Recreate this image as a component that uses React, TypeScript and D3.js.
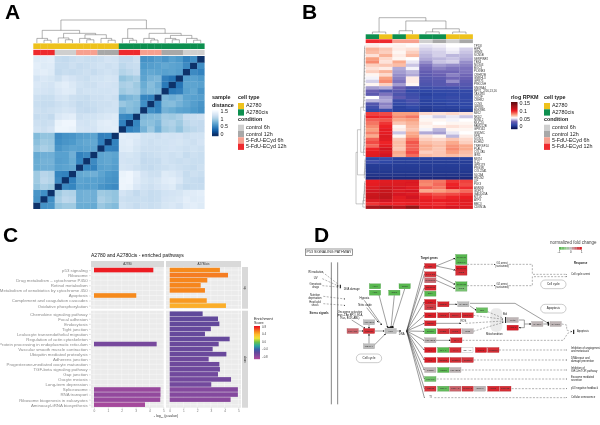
import React, { useEffect, useRef } from 'react';
import * as d3 from 'd3';

const FONT = '"Liberation Sans", Arial, sans-serif';

// ---- panel A / B annotations
const conditions = ['control 6h', 'control 12h', '5-FdU-ECyd 6h', '5-FdU-ECyd 12h'];
const conditionColors = ['#cfcfcf', '#a8a8a8', '#f7a08f', '#ee2a2e'];
const cellTypes = ['A2780', 'A2780cis'];
const cellTypeColors = ['#eec21f', '#0b8f4f'];

// ---- panel A: lower triangle of the sample distance matrix (x100), samples in column order
const sampleTypeA = [0, 0, 0, 0, 0, 0, 0, 0, 0, 0, 0, 0, 1, 1, 1, 1, 1, 1, 1, 1, 1, 1, 1, 1];
const sampleCondA = [3, 3, 3, 0, 0, 0, 2, 2, 2, 1, 1, 1, 3, 3, 3, 2, 2, 2, 1, 1, 1, 0, 0, 0];
const distanceA = [
  [0],
  [60, 0],
  [62, 58, 0],
  [95, 105, 100, 0],
  [100, 115, 110, 55, 0],
  [100, 112, 108, 52, 50, 0],
  [78, 80, 80, 70, 72, 75, 0],
  [78, 82, 82, 68, 70, 78, 52, 0],
  [76, 80, 80, 70, 70, 80, 50, 55, 0],
  [98, 105, 100, 62, 68, 72, 70, 72, 72, 0],
  [92, 100, 98, 58, 62, 65, 72, 75, 75, 50, 0],
  [88, 95, 95, 55, 60, 62, 68, 70, 72, 48, 50, 0],
  [128, 125, 130, 150, 150, 148, 132, 130, 130, 138, 140, 142, 0],
  [125, 122, 125, 148, 152, 152, 130, 128, 132, 140, 142, 140, 50, 0],
  [120, 122, 118, 135, 140, 142, 125, 128, 128, 132, 135, 138, 55, 52, 0],
  [125, 122, 125, 128, 132, 130, 120, 118, 120, 125, 128, 128, 82, 90, 85, 0],
  [122, 120, 120, 125, 128, 125, 118, 120, 122, 125, 125, 128, 98, 92, 88, 58, 0],
  [125, 122, 122, 130, 132, 125, 122, 120, 125, 125, 128, 125, 80, 85, 90, 52, 50, 0],
  [132, 130, 128, 135, 140, 138, 125, 128, 128, 128, 128, 130, 100, 105, 102, 82, 88, 85, 0],
  [135, 132, 130, 138, 142, 136, 128, 125, 125, 130, 130, 128, 105, 108, 100, 78, 90, 80, 45, 0],
  [130, 135, 132, 125, 135, 130, 125, 122, 128, 128, 132, 130, 95, 100, 105, 72, 82, 85, 48, 42, 0],
  [140, 142, 138, 118, 122, 120, 122, 125, 120, 125, 128, 125, 110, 115, 120, 70, 75, 72, 70, 72, 68, 0],
  [142, 138, 140, 120, 120, 125, 120, 122, 125, 128, 125, 128, 115, 120, 122, 65, 68, 70, 75, 72, 70, 55, 0],
  [138, 140, 142, 120, 118, 122, 125, 122, 122, 125, 130, 128, 118, 118, 125, 60, 62, 68, 62, 70, 65, 50, 58, 0],
];
const treeA: any = [1,
  [.55, [.2, 0, [.12, 0, 0]], [.42, [.22, 0, [.14, 0, 0]], [.36, [.2, 0, [.14, 0, 0]], [.2, 0, [.12, 0, 0]]]]],
  [.62, [.2, 0, [.12, 0, 0]], [.42, [.2, 0, [.13, 0, 0]], [.33, [.2, 0, [.14, 0, 0]], [.2, 0, [.12, 0, 0]]]]],
];

// ---- panel B: rlog RPKM x1000, one row per gene
const sampleTypeB = [1, 0, 1, 0, 1, 1, 0, 0];
const sampleCondB = [3, 3, 2, 2, 0, 1, 0, 1];
const genesB = ['TP53I', 'HIPK', 'GRM3', 'SCN5B', 'SERPINF2', 'TBX4', 'NOX03', 'BOC3', 'PLXNB3', 'CRHR2B', 'GNRHL3', 'GPR75', 'PRKCSH', 'SNORA4', 'NPY1_2/16,13,16', 'TAS1R3', 'CXCIF', 'CRHR2', 'CCN3', 'GPR85', 'BDKRB1',
  'MKI2', 'NKD2', 'NXNL2', 'MUC20', 'FAM212B', 'GPR162', 'GSDMC', 'SFN', 'SOX21', 'ECHS2', 'TNFRSF14', 'PLAU', 'COL7A5', 'IER5',
  'MNT4', 'IL12', 'GPR179', 'PRG3R', 'COL22A1', 'SLC8A', 'HNCN2',
  'LIF', 'PLK3', 'ASNSD', 'GDF15', 'GADD45A', 'MT1X', 'ATF3', 'BBC3', 'CDKN1A'];
const rpkmB = [
  [64, 62, 63, 61, 55, 57, 60, 60],
  [76, 72, 64, 66, 52, 54, 58, 52],
  [74, 70, 62, 70, 50, 52, 56, 50],
  [66, 76, 64, 74, 48, 52, 48, 48],
  [80, 68, 62, 60, 46, 48, 50, 46],
  [84, 66, 78, 56, 42, 50, 52, 42],
  [70, 72, 74, 50, 38, 44, 42, 40],
  [66, 64, 46, 58, 36, 40, 38, 38],
  [70, 76, 44, 48, 32, 36, 36, 38],
  [62, 68, 42, 46, 30, 34, 40, 36],
  [58, 80, 40, 64, 28, 30, 36, 34],
  [52, 84, 38, 64, 26, 28, 42, 30],
  [62, 70, 44, 62, 24, 28, 32, 28],
  [44, 46, 34, 22, 18, 20, 20, 22],
  [34, 24, 28, 14, 12, 14, 14, 14],
  [30, 38, 24, 18, 10, 12, 14, 14],
  [60, 44, 30, 20, 12, 14, 16, 14],
  [48, 46, 16, 22, 10, 12, 14, 14],
  [26, 40, 14, 18, 10, 10, 12, 12],
  [20, 42, 10, 14, 8, 10, 10, 12],
  [14, 16, 10, 10, 6, 8, 8, 8],
  [98, 96, 80, 80, 68, 66, 68, 66],
  [104, 102, 84, 88, 58, 52, 56, 50],
  [92, 94, 78, 80, 62, 62, 58, 60],
  [88, 100, 72, 76, 64, 60, 62, 62],
  [84, 104, 62, 74, 62, 64, 66, 64],
  [80, 108, 64, 72, 58, 48, 62, 62],
  [86, 108, 50, 78, 46, 44, 56, 60],
  [78, 112, 62, 80, 66, 62, 48, 64],
  [92, 110, 72, 88, 70, 68, 72, 68],
  [96, 104, 74, 94, 74, 72, 78, 70],
  [90, 108, 74, 92, 78, 74, 82, 78],
  [104, 116, 72, 92, 76, 72, 84, 78],
  [108, 112, 78, 96, 70, 72, 80, 74],
  [110, 116, 76, 90, 74, 72, 74, 72],
  [12, 16, 10, 10, 10, 10, 10, 10],
  [18, 12, 9, 9, 8, 8, 8, 8],
  [8, 8, 8, 8, 8, 8, 8, 8],
  [7, 7, 7, 7, 7, 7, 7, 7],
  [6, 6, 6, 6, 6, 6, 6, 6],
  [4, 4, 4, 4, 4, 4, 4, 4],
  [1, 1, 1, 1, 1, 1, 1, 1],
  [106, 110, 110, 112, 86, 88, 100, 98],
  [108, 112, 112, 112, 84, 90, 104, 96],
  [112, 118, 114, 110, 92, 88, 108, 102],
  [116, 120, 112, 114, 78, 80, 84, 90],
  [118, 122, 114, 112, 98, 94, 96, 100],
  [120, 124, 110, 116, 104, 100, 104, 106],
  [112, 116, 108, 110, 108, 106, 108, 110],
  [100, 104, 104, 106, 104, 102, 106, 108],
  [132, 138, 126, 140, 112, 110, 114, 112],
];
const colTreeB: any = [1, [.12, 0, 0], [.8, [.2, 0, 0], [.32, [.13, 0, 0], [.12, 0, 0]]]];
const upperHeightsB = [.08, .1, .09, .12, .11, .13, .1, .14, .12, .15, .13, .16, .14, .17, .16, .18, .15, .19, .2, .22];
const orangeHeightsB = [.07, .09, .1, .12, .1, .13, .11, .14, .15, .13, .16, .18, .2];
const blueHeightsB = [.04, .05, .06, .07, .09, .12];
const redHeightsB = [.08, .1, .12, .11, .15, .18, .2, .28];

// ---- panel C
const upPathways = ['p53 signaling', 'Ribosome', 'Drug metabolism \u2013 cytochrome P450', 'Retinol metabolism', 'Metabolism of xenobiotics by cytochrome 450', 'Apoptosis', 'Complement and coagulation cascades', 'Oxidative phosphorylation'];
const downPathways = ['Chemokine signaling pathway', 'Focal adhesion', 'Endocytosis', 'Tight junction', 'Leukocyte transendothelial migration', 'Regulation of actin cytoskeleton', 'Protein processing in endoplasmatic reticulum', 'Vascular smooth muscle contraction', 'Ubiquitin mediated proteolysis', 'Adherens junction', 'Progesterone-mediated oocyte maturation', 'TGF-beta signaling pathway', 'Gap junction', 'Oocyte meiosis', 'Long-term depression', 'Spliceosome', 'RNA transport', 'Ribosome biogenesis in eukaryotes', 'Aminoacyl-tRNA biosynthesis'];
const upLogP = [[4.28, 0, 0, 0, 0, 3.05, 0, 0], [3.66, 4.25, 2.74, 2.26, 2.57, 0, 2.7, 4.1]];
const upScore = [[.8, 0, 0, 0, 0, .55, 0, 0], [.55, .58, .56, .56, .56, 0, .5, .44]];
const downLogP = [
  [0, 0, 0, 0, 0, 0, 4.52, 0, 0, 0, 0, 0, 0, 0, 0, 4.8, 4.8, 4.78, 3.68],
  [2.4, 3.52, 3.62, 3.0, 2.57, 4.37, 3.57, 3.13, 4.13, 2.84, 3.62, 3.66, 3.52, 4.47, 3.03, 4.97, 4.97, 4.44, 0],
];
const downScore = [
  [0, 0, 0, 0, 0, 0, -.66, 0, 0, 0, 0, 0, 0, 0, 0, -.8, -.78, -.8, -.85],
  [-.55, -.56, -.57, -.58, -.58, -.58, -.6, -.6, -.6, -.62, -.62, -.62, -.63, -.64, -.64, -.72, -.72, -.74, 0],
];
const scoreStops = [-.85, -.7, -.55, -.4, -.2, 0, .2, .4, .55, .8];
const scoreColors = ['#a54a9c', '#7f4a9e', '#60489b', '#3a5fa8', '#2aa8a0', '#6cc24a', '#f0e434', '#fdbb2d', '#f68a1f', '#ed1c24'];
const scoreTicks = [.8, .4, 0, -.4, -.8];

// ---- panel D: KEGG p53 pathway, map coordinates are the KGML-style grid of the map
const keggNodes: [string, number, number][] = [
  ['ATM', 240, 214], ['ATR', 240, 233], ['Chk1', 298, 233], ['Chk2', 329, 214],
  ['p14ARF', 173, 348], ['MDM2', 222, 348], ['ARF-BP1', 222, 322], ['MDM-X', 222, 394], ['p53', 287, 348],
  ['p21', 406, 153], ['Cyclin D', 499, 126], ['Cdk4/6', 499, 141], ['Cyclin E', 499, 160], ['Cdk2', 499, 173],
  ['Cyclin B', 499, 208], ['Cdc2', 499, 221], ['14-3-3\u03c3', 406, 178], ['Reprimo', 406, 196], ['Gadd45', 406, 218], ['B99', 406, 236],
  ['Fas', 406, 261], ['PIDD', 406, 277], ['LRDD', 445, 268], ['CASP8', 505, 268],
  ['Bax', 406, 301], ['Noxa', 445, 301], ['PUMA', 481, 301], ['P53AIP', 518, 301], ['Bid', 561, 286], ['PERP', 406, 325],
  ['Scotin', 406, 349], ['PIDD', 445, 349], ['PIG3', 481, 349], ['Siah', 518, 349], ['IGF-BP3', 406, 376], ['BAI', 484, 376],
  ['PAI', 406, 405], ['BAI-1', 445, 405], ['KAI', 481, 405], ['GD-AiF', 517, 405], ['TSP1', 558, 405], ['Maspin', 595, 405],
  ['Pol', 406, 435], ['p53R2', 445, 435], ['Sestrin', 482, 435], ['Sestrin', 518, 435],
  ['PTEN', 406, 465], ['TSC2', 445, 465], ['IGF-BP3', 481, 465], ['TSAP6', 406, 492],
  ['MDM2', 406, 521], ['Cop-1', 445, 521], ['PIRH-2', 481, 521], ['Cyclin G', 518, 521], ['Siah-1', 555, 521], ['Wip1', 595, 521], ['PPM1D', 631, 521],
  ['CytC', 653, 315], ['Apaf-1', 653, 338], ['CASP9', 727, 327], ['CASP3', 782, 327],
];
const keggFold: (number | null)[] = [
  -1, -1, -1, -1,
  .55, .9, 0, 0, 0,
  .95, -1, -1, 1, .9,
  -1, -.7, .9, .5, .95, -1,
  1, .8, .95, 0,
  1, .95, .9, .95, -.85, .95,
  -1, .9, .9, .05, .05, .9,
  1, -1, .9, null, 1, .9,
  1, .95, .9, .85,
  .05, -1, .05, -.8,
  .85, -.9, .55, .85, .05, .95, .9,
  .05, 1, .05, .05,
];
const keggTargetRows = [153, 178, 218, 261, 301, 325, 349, 376, 405, 435, 465, 492, 521, 548];
const keggSolid: number[][][] = [
  [[190, 348], [205, 348]], [[240, 348], [268, 348]], [[222, 330], [222, 340]], [[222, 386], [222, 357]], [[234, 394], [272, 356]],
  [[252, 240], [278, 338]], [[298, 241], [288, 338]], [[329, 222], [292, 338]], [[208, 256], [260, 330]], [[215, 278], [250, 322]],
  [[170, 315], [210, 340]], [[304, 348], [318, 348]],
  [[423, 153], [480, 130]], [[423, 153], [480, 165]], [[423, 180], [480, 208]], [[423, 196], [480, 221]],
  [[462, 268], [486, 268]], [[525, 265], [660, 265], [760, 325]], [[525, 273], [544, 286]],
  [[422, 325], [498, 325]], [[423, 376], [466, 376]], [[672, 315], [688, 315], [688, 338], [672, 338]],
  [[688, 327], [708, 327]], [[745, 327], [763, 327]],
];
const keggDashed: number[][][] = [
  [[82, 171], [130, 208]], [[82, 191], [130, 213]], [[82, 212], [130, 216]], [[85, 244], [150, 252]], [[85, 266], [150, 271]],
  [[516, 148], [600, 148]], [[642, 148], [712, 148], [712, 178], [815, 178]],
  [[516, 212], [600, 212]], [[642, 212], [712, 212], [712, 185], [815, 185]],
  [[578, 290], [625, 310]], [[535, 301], [625, 313]], [[512, 325], [625, 318]], [[535, 349], [625, 322]],
  [[502, 376], [805, 376], [818, 355], [830, 350]], [[800, 327], [815, 330], [815, 345], [830, 350]],
  [[612, 405], [815, 405]], [[536, 435], [815, 435]], [[500, 465], [815, 465]], [[425, 492], [815, 492]], [[650, 521], [815, 521]], [[418, 548], [815, 548]],
];
const keggBlockers: number[][][] = [
  [[136, 209], [136, 220]], [[632, 306], [632, 324]], [[760, 320], [760, 332]], [[836, 344], [836, 357]], [[278, 337], [296, 337]],
];
const keggLabels: [string, number, number][] = [
  ['IR irradiation', 62, 171], ['UV', 62, 191], ['Genotoxic\ndrugs', 62, 212], ['Nutrition\ndeprivation', 60, 244], ['Heat/cold\nshock', 60, 266],
  ['DNA damage', 170, 224], ['Hypoxia', 208, 249], ['Nitric oxide', 210, 271],
  ['Oncogene activation\n(myc-1 Ap BP1), E1A,\nRas, BCR-ABL)', 165, 301], ['DNA', 320, 358],
  ['G1 arrest\n(sustained)', 621, 150], ['G2 arrest\n(sustained)', 621, 212], ['ROS', 505, 319], ['Bid', 630, 297],
  ['Mitochondrion', 598, 358], ['TI', 406, 548],
];
const keggResponses: [string, number, number][] = [
  ['Cell cycle arrest', 828, 179], ['Apoptosis', 846, 350], ['Inhibition of angiogenesis\nand metastasis', 828, 405], ['DNA repair and\ndamage prevention', 828, 433],
  ['Inhibition of\nIGF-1/mTOR pathway', 828, 465], ['Exosome mediated\nsecretion', 828, 491], ['p53 negative feedback', 828, 521], ['Cellular senescence', 828, 548],
];
const keggBoldLabels: [string, number, number][] = [['Stress signals', 72, 295], ['Target genes', 403, 131], ['Response', 857, 145]];
const keggOvals: [string, number, number][] = [['Cell cycle', 222, 430], ['Cell cycle', 775, 208], ['Apoptosis', 775, 281]];
const foldLegend = [-1, -.75, -.5, -.25, 0, .25, .5, .75, 1];

// ---- helpers
type Tree = 0 | [number, Tree, Tree];

function chain(heights: number[]): Tree {
  return heights.reduce((acc: Tree, h) => [h, acc, 0] as Tree, 0 as Tree);
}

// returns path string of a dendrogram; leaf axis along "pos", merge height along "hgt"
function dendroPath(tree: Tree, pos: (i: number) => number, hgt: (h: number) => number, horizontal: boolean) {
  const root: any = d3.hierarchy(tree as any, (d: any) => (d === 0 ? null : [d[1], d[2]]));
  let idx = 0;
  root.eachAfter((n: any) => {
    n.p = n.children ? d3.mean(n.children, (c: any) => c.p) : pos(idx++);
    n.h = n.children ? hgt(n.data[0]) : hgt(0);
  });
  const path = d3.path();
  const pt = (a: number, b: number) => (horizontal ? [a, b] : [b, a]) as [number, number];
  root.each((n: any) => {
    if (!n.children) return;
    const [a, b] = n.children;
    path.moveTo(...pt(a.p, a.h));
    path.lineTo(...pt(a.p, n.h));
    path.lineTo(...pt(b.p, n.h));
    path.lineTo(...pt(b.p, b.h));
  });
  return path.toString();
}

function Label({ x, y, size = 5.4, bold = false, anchor = 'start', fill = '#222', children }: any) {
  return (
    <text x={x} y={y} fontSize={size} fontWeight={bold ? 700 : 400} textAnchor={anchor} fill={fill} fontFamily={FONT} dominantBaseline="middle">
      {children}
    </text>
  );
}

function SideLegend({ x }: { x: number }) {
  const rowH = 6.3;
  return (
    <g>
      <Label x={x} y={97.5} bold>cell type</Label>
      {cellTypes.map((d, i) => (
        <g key={d}>
          <rect x={x} y={103 + i * rowH} width={6} height={rowH} fill={cellTypeColors[i]} />
          <Label x={x + 8} y={106 + i * rowH}>{d}</Label>
        </g>
      ))}
      <Label x={x} y={120} bold>condition</Label>
      {conditions.map((d, i) => (
        <g key={d}>
          <rect x={x} y={124.7 + i * rowH} width={6} height={rowH} fill={conditionColors[i]} />
          <Label x={x + 8} y={127.8 + i * rowH}>{d}</Label>
        </g>
      ))}
    </g>
  );
}

function ColorBar({ x, y0, y1, scale, domain, ticks }: any) {
  const y = d3.scaleLinear().domain(domain).range([y1, y0]);
  const steps = d3.range(Math.ceil(y1 - y0));
  return (
    <g>
      {steps.map((s: number) => (
        <rect key={s} x={x} y={y0 + s} width={6.5} height={1.2} fill={scale(y.invert(y0 + s + .5))} />
      ))}
      {ticks.map((t: any) => (
        <Label key={t} x={x + 8.5} y={y(t)}>{String(t)}</Label>
      ))}
    </g>
  );
}

function PanelA() {
  const x = d3.scaleBand<number>().domain(d3.range(24)).range([33.3, 204.3]);
  const y = d3.scaleBand<number>().domain(d3.range(24).reverse()).range([56, 208.7]);
  const color = (d: number) => d3.interpolateBlues(Math.max(0, 1 - d / 1.58));
  const h = d3.scaleLinear().domain([0, 1]).range([43, 20]);
  return (
    <g>
      <path d={dendroPath(treeA, (i) => (x(i) as number) + x.bandwidth() / 2, h, true)} fill="none" stroke="#666" strokeWidth={.5} />
      {d3.range(24).map((c: number) => (
        <g key={c}>
          <rect x={x(c)} y={43.4} width={x.bandwidth() + .3} height={5.6} fill={cellTypeColors[sampleTypeA[c]]} />
          <rect x={x(c)} y={49.8} width={x.bandwidth() + .3} height={5.4} fill={conditionColors[sampleCondA[c]]} />
        </g>
      ))}
      {d3.range(24).map((r: number) =>
        d3.range(24).map((c: number) => (
          <rect key={r + '-' + c} x={x(c)} y={y(r)} width={x.bandwidth() + .3} height={y.bandwidth() + .3}
            fill={color((r >= c ? distanceA[r][c] : distanceA[c][r]) / 100)} />
        )))}
      <Label x={212} y={97.5} bold>sample</Label>
      <Label x={212} y={105.5} bold>distance</Label>
      <ColorBar x={212} y0={110} y1={136} scale={color} domain={[-.1, 1.62]} ticks={[1.5, 1, .5, 0]} />
      <SideLegend x={238} />
    </g>
  );
}

function PanelB() {
  const x = d3.scaleBand<number>().domain(d3.range(8)).range([365.7, 472.7]);
  const y = d3.scaleBand<number>().domain(d3.range(genesB.length)).range([44.3, 208.7]);
  const color = d3.scaleLinear<string>()
    .domain([0, .012, .035, .05, .06, .08, .105, .15])
    .range(['#1b2a7a', '#2d47a6', '#6a5fb3', '#c9c4e4', '#ffffff', '#f9a080', '#ed1c24', '#7c0f14']);
  const h = d3.scaleLinear().domain([0, 1]).range([34, 17.7]);
  const hr = d3.scaleLinear().domain([0, 1]).range([365.5, 356]);
  const rowTree: Tree = [1, [.85, [.5, chain(upperHeightsB), chain(orangeHeightsB)], chain(blueHeightsB)], chain(redHeightsB)];
  const barColor = (v: number) => color(v);
  return (
    <g>
      <path d={dendroPath(colTreeB, (i) => (x(i) as number) + x.bandwidth() / 2, h, true)} fill="none" stroke="#666" strokeWidth={.5} />
      <path d={dendroPath(rowTree, (i) => (y(i) as number) + y.bandwidth() / 2, hr, false)} fill="none" stroke="#777" strokeWidth={.4} />
      {d3.range(8).map((c: number) => (
        <g key={c}>
          <rect x={x(c)} y={34.3} width={x.bandwidth() + .2} height={4.7} fill={cellTypeColors[sampleTypeB[c]]} />
          <rect x={x(c)} y={39.3} width={x.bandwidth() + .2} height={3.8} fill={conditionColors[sampleCondB[c]]} />
        </g>
      ))}
      {rpkmB.map((row, r) => row.map((v, c) => (
        <rect key={r + '-' + c} x={x(c)} y={y(r)} width={x.bandwidth() + .2} height={y.bandwidth() + .2} fill={color(v / 1000)} />
      )))}
      {genesB.map((g, r) => (
        <Label key={r} x={474} y={(y(r) as number) + y.bandwidth() / 2} size={2.9} fill="#333">{g}</Label>
      ))}
      <Label x={511} y={97.5} bold>rlog RPKM</Label>
      <ColorBar x={511} y0={102} y1={128.3} scale={barColor} domain={[-.008, .163]} ticks={[.15, .1, .05, 0]} />
      <SideLegend x={544} />
    </g>
  );
}

function AxisG({ axis, transform, size, fill }: any) {
  const ref = useRef<SVGGElement>(null);
  useEffect(() => {
    const g = d3.select(ref.current as SVGGElement);
    g.call(axis);
    g.select('.domain').remove();
    g.selectAll('line').attr('stroke', '#888').attr('stroke-width', .4);
    g.selectAll('text').attr('font-size', size).attr('fill', fill).attr('font-family', FONT);
  }, [axis, size, fill]);
  return <g ref={ref} transform={transform} />;
}

function PanelC() {
  const xs = [
    d3.scaleLinear().domain([0, 5]).range([94, 163.3]),
    d3.scaleLinear().domain([0, 5]).range([169.7, 238.3]),
  ];
  const panelX = [[91, 164], [166, 241]];
  const yUp = d3.scalePoint<string>().domain(upPathways).range([267, 308.7]).padding(.6);
  const yDown = d3.scalePoint<string>().domain(downPathways).range([310.7, 407.7]).padding(.6);
  const score = d3.scaleLinear<string>().domain(scoreStops).range(scoreColors);
  const barH = yUp.step() * .9;
  const rows = [
    { y: yUp, names: upPathways, logP: upLogP, sc: upScore, range: [267, 308.7], label: 'up' },
    { y: yDown, names: downPathways, logP: downLogP, sc: downScore, range: [310.7, 407.7], label: 'down' },
  ];
  const legendY = d3.scaleLinear().domain([.85, -.85]).range([326, 358]);
  return (
    <g>
      <Label x={91} y={255.8} size={5.05} fill="#111">A2780 and A2780cis - enriched pathways</Label>
      {panelX.map(([a, b], f) => (
        <g key={f}>
          <rect x={a} y={261} width={b - a} height={6} fill="#d9d9d9" />
          <Label x={(a + b) / 2} y={264.2} size={2.9} anchor="middle" fill="#333">{cellTypes[f]}</Label>
        </g>
      ))}
      {rows.map((p) => (
        <g key={p.label}>
          <rect x={242} y={p.range[0]} width={6} height={p.range[1] - p.range[0]} fill="#d9d9d9" />
          <text transform={`translate(245,${(p.range[0] + p.range[1]) / 2}) rotate(90)`} fontSize={2.9} textAnchor="middle" dominantBaseline="middle" fill="#333" fontFamily={FONT}>{p.label}</text>
          {panelX.map(([a, b], f) => (
            <g key={f}>
              <rect x={a} y={p.range[0]} width={b - a} height={p.range[1] - p.range[0]} fill="#ebebeb" />
              {xs[f].ticks(10).map((t) => (
                <line key={t} x1={xs[f](t)} x2={xs[f](t)} y1={p.range[0]} y2={p.range[1]} stroke="#fff" strokeWidth={Number.isInteger(t) ? .4 : .2} />
              ))}
              {p.names.map((n) => (
                <line key={n} x1={a} x2={b} y1={p.y(n)} y2={p.y(n)} stroke="#fff" strokeWidth={.4} />
              ))}
              {p.names.map((n, i) => (p.logP[f][i] > 0 ? (
                <rect key={n} x={xs[f](0)} y={(p.y(n) as number) - barH / 2} width={xs[f](p.logP[f][i]) - xs[f](0)} height={barH} fill={score(p.sc[f][i])} />
              ) : null))}
            </g>
          ))}
          <AxisG axis={d3.axisLeft(p.y).tickSize(1.2).tickPadding(1.6)} transform="translate(90.5,0)" size={4.35} fill="#8c8c8c" />
        </g>
      ))}
      {xs.map((s, f) => (
        <AxisG key={f} axis={d3.axisBottom(s).ticks(5).tickSize(1).tickPadding(.8).tickFormat(d3.format('d'))} transform="translate(0,407.7)" size={3.2} fill="#777" />
      ))}
      <text x={166} y={416} fontSize={3.5} textAnchor="middle" dominantBaseline="middle" fill="#333" fontFamily={FONT}>
        {'- log'}<tspan fontSize={2.4} dy={.8}>10</tspan><tspan dy={-.8}>{' (p-value)'}</tspan>
      </text>
      <Label x={254} y={319} size={3.7} fill="#222">Enrichment</Label>
      <Label x={254} y={323.4} size={3.7} fill="#222">Score</Label>
      {d3.range(33).map((s: number) => (
        <rect key={s} x={254} y={326 + s} width={6} height={1.2} fill={score(legendY.invert(326 + s + .5))} />
      ))}
      {scoreTicks.map((t) => (
        <Label key={t} x={262} y={legendY(t)} size={2.9} fill="#444">{d3.format('.1f')(t).replace('-', '\u2212')}</Label>
      ))}
    </g>
  );
}

function PanelD() {
  const mx = d3.scaleLinear().domain([0, 915]).range([295, 600]);
  const my = d3.scaleLinear().domain([0, 630]).range([215, 425]);
  const fold = d3.scaleLinear<string>().domain([-1, -.5, 0, .5, 1]).range(['#58b84f', '#8fc98a', '#bdbdbd', '#c96a72', '#d71f27']);
  const line = d3.line<number[]>().x((d) => mx(d[0])).y((d) => my(d[1]));
  const nodeW = mx(34) - mx(0);
  const nodeH = my(15) - my(0);
  const multi = (s: string, x: number, y: number, size: number, anchor: string, key: any, bold = false) => {
    const parts = s.split('\n');
    return (
      <g key={key}>
        {parts.map((p, i) => (
          <Label key={i} x={mx(x)} y={my(y) + (i - (parts.length - 1) / 2) * size * 1.1} size={size} anchor={anchor} bold={bold} fill="#222">{p}</Label>
        ))}
      </g>
    );
  };
  return (
    <g>
      <defs>
        <marker id="tip" viewBox="0 0 6 6" refX="5" refY="3" markerWidth="2.6" markerHeight="2.6" orient="auto">
          <path d="M0,0L6,3L0,6Z" fill="#000" />
        </marker>
      </defs>
      <rect x={mx(31)} y={my(102)} width={mx(173) - mx(31)} height={my(121) - my(102)} fill="#fff" stroke="#555" strokeWidth={.6} />
      <Label x={mx(102)} y={my(112)} size={3.6} anchor="middle" fill="#222">P53 SIGNALING PATHWAY</Label>
      {[109, 128].map((v) => (
        <line key={v} x1={mx(v)} x2={mx(v)} y1={my(142)} y2={my(568)} stroke="#666" strokeWidth={.8} />
      ))}
      <rect x={mx(586)} y={my(280)} width={mx(622) - mx(586)} height={my(350) - my(280)} rx={5} fill="#ebebeb" />
      {keggOvals.map(([t, a, b], i) => (
        <g key={i}>
          <rect x={mx(a - 38)} y={my(b - 13)} width={mx(76) - mx(0)} height={my(26) - my(0)} rx={4.4} fill="#fff" stroke="#999" strokeWidth={.5} />
          <Label x={mx(a)} y={my(b)} size={3} anchor="middle">{t}</Label>
        </g>
      ))}
      {keggTargetRows.map((v) => (
        <path key={v} d={line([[335, 348], [388, v]]) as string} fill="none" stroke="#222" strokeWidth={.45} markerEnd="url(#tip)" />
      ))}
      {keggSolid.map((d, i) => (
        <path key={i} d={line(d) as string} fill="none" stroke="#777" strokeWidth={.7} markerEnd="url(#tip)" />
      ))}
      {keggDashed.map((d, i) => (
        <path key={i} d={line(d) as string} fill="none" stroke="#555" strokeWidth={.45} strokeDasharray="2 1.4" markerEnd="url(#tip)" />
      ))}
      {keggBlockers.map((d, i) => (
        <path key={i} d={line(d) as string} fill="none" stroke="#111" strokeWidth={1.1} />
      ))}
      {keggNodes.map(([name, a, b], i) => {
        const v = keggFold[i];
        const c = v === null ? '#ffffff' : fold(v);
        return (
          <g key={i}>
            <rect x={mx(a) - nodeW / 2} y={my(b) - nodeH / 2} width={nodeW} height={nodeH} fill={c} stroke={v === null ? '#999' : (d3.color(c) as any).darker(.5).toString()} strokeWidth={.3} />
            <Label x={mx(a)} y={my(b) + .1} size={2.5} anchor="middle" fill="#333">{name}</Label>
          </g>
        );
      })}
      {keggLabels.map(([t, a, b], i) => multi(t, a, b, 2.7, 'middle', 'l' + i))}
      {keggResponses.map(([t, a, b], i) => multi(t, a, b, 2.7, 'start', 'r' + i))}
      {keggBoldLabels.map(([t, a, b], i) => multi(t, a, b, 2.8, 'middle', 'b' + i, true))}
      <Label x={mx(835)} y={my(82)} size={4.5} anchor="middle" fill="#444">normalized fold change</Label>
      {foldLegend.map((v, i) => (
        <rect key={v} x={mx(792 + i * 7.6)} y={my(96)} width={mx(7.8) - mx(0)} height={my(8) - my(0)} fill={fold(v)} />
      ))}
      {[[-1, 792], [0, 827], [1, 860]].map(([t, a]) => (
        <Label key={t} x={mx(a)} y={my(112)} size={2.8} anchor="middle">{t === -1 ? '\u22121' : String(t)}</Label>
      ))}
    </g>
  );
}

export default function App() {
  return (
    <svg width={600} height={425} style={{ position: 'absolute', left: 0, top: 0, background: '#fff' }}>
      <defs>
        <filter id="soft" x="0" y="0" width="100%" height="100%">
          <feGaussianBlur stdDeviation={.42} />
        </filter>
      </defs>
      <g filter="url(#soft)">
        <rect width={600} height={425} fill="#fff" />
        <PanelA />
        <PanelB />
        <PanelC />
        <PanelD />
        {[['A', 5, 19], ['B', 302, 19], ['C', 3, 242], ['D', 314, 242]].map(([t, x, y]) => (
          <text key={t as string} x={x as number} y={y as number} fontSize={21} fontWeight={700} fontFamily={FONT} fill="#000">{t}</text>
        ))}
      </g>
    </svg>
  );
}
